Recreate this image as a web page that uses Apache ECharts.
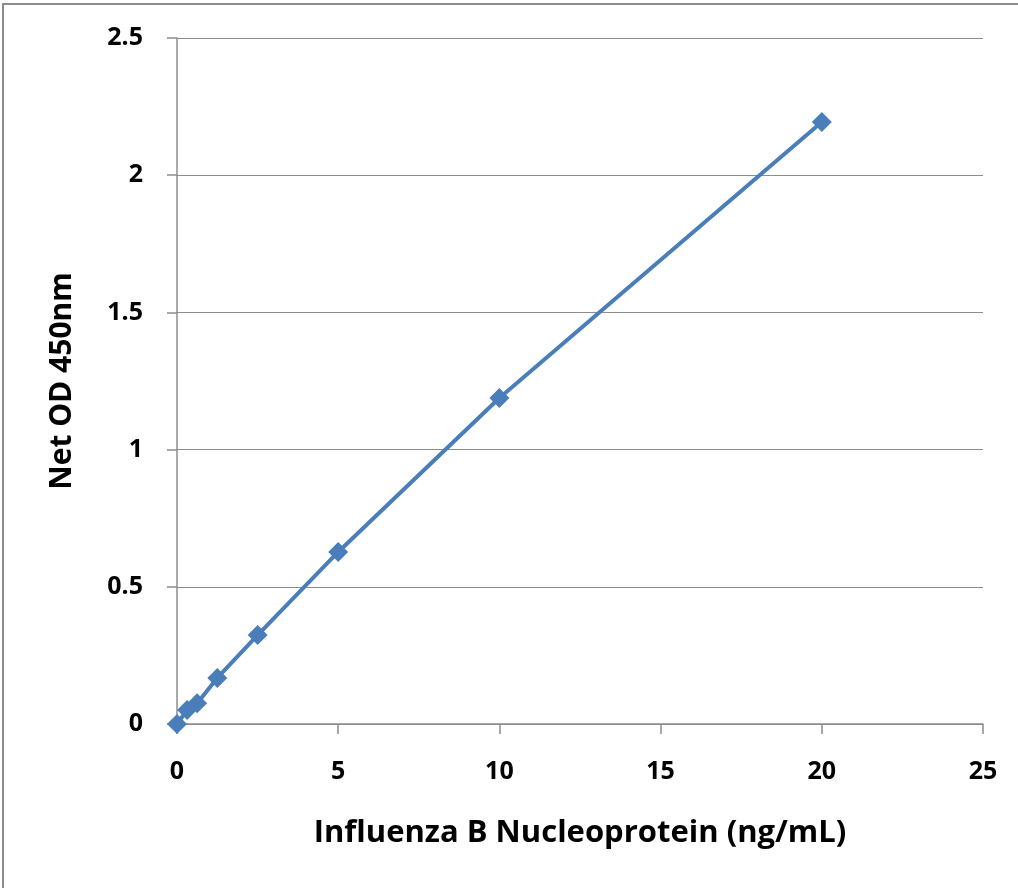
<!DOCTYPE html>
<html><head><meta charset="utf-8">
<script src="https://cdn.jsdelivr.net/npm/echarts@6/dist/echarts.min.js"></script>
<style>html,body{margin:0;padding:0;background:#fff}#c{width:1018px;height:888px}</style>
</head><body><div id="c"></div>
<script>
const concentrations = [0, 0.3125, 0.625, 1.25, 2.5, 5, 10, 20];
const netOD = [0, 0.051, 0.076, 0.168, 0.324, 0.627, 1.188, 2.194];
const xTitle = 'Influenza B Nucleoprotein (ng/mL)';
const yTitle = 'Net OD 450nm';
const data = concentrations.map((c, i) => [c, netOD[i]]);
const font = '"Open Sans", "Liberation Sans", sans-serif';
const chart = echarts.init(document.getElementById('c'));
chart.setOption({
  animation: false,
  grid: {left: 177, right: 35, top: 38, bottom: 164},
  graphic: [{type: 'rect', shape: {x: 3, y: 4, width: 1100, height: 950}, style: {fill: 'none', stroke: '#8c8c8c', lineWidth: 2}, silent: true}],
  xAxis: {
    type: 'value', min: 0, max: 25, interval: 5,
    name: xTitle, nameLocation: 'middle', nameGap: 94,
    nameTextStyle: {fontFamily: font, fontWeight: 'bold', fontSize: 31, color: '#000'},
    axisLine: {show: true, lineStyle: {color: '#8c8c8c', width: 1.5}},
    axisTick: {show: true, length: 10, lineStyle: {color: '#8c8c8c', width: 1.5}},
    axisLabel: {fontFamily: font, fontWeight: 'bold', fontSize: 25, color: '#000', margin: 35},
    splitLine: {show: false}
  },
  yAxis: {
    type: 'value', min: 0, max: 2.5, interval: 0.5,
    name: yTitle, nameLocation: 'middle', nameGap: 100, nameRotate: 90,
    nameTextStyle: {fontFamily: font, fontWeight: 'bold', fontSize: 30, color: '#000'},
    axisLine: {show: true, lineStyle: {color: '#8c8c8c', width: 1.5}},
    axisTick: {show: true, length: 10, lineStyle: {color: '#8c8c8c', width: 1.5}},
    axisLabel: {fontFamily: font, fontWeight: 'bold', fontSize: 25, color: '#000', margin: 34},
    splitLine: {show: true, lineStyle: {color: '#8c8c8c', width: 1.2}}
  },
  series: [{
    type: 'line', data: data,
    symbol: 'diamond', symbolSize: 20,
    lineStyle: {color: '#4a7ebb', width: 4},
    itemStyle: {color: '#4a7ebb'}
  }]
});
</script></body></html>
